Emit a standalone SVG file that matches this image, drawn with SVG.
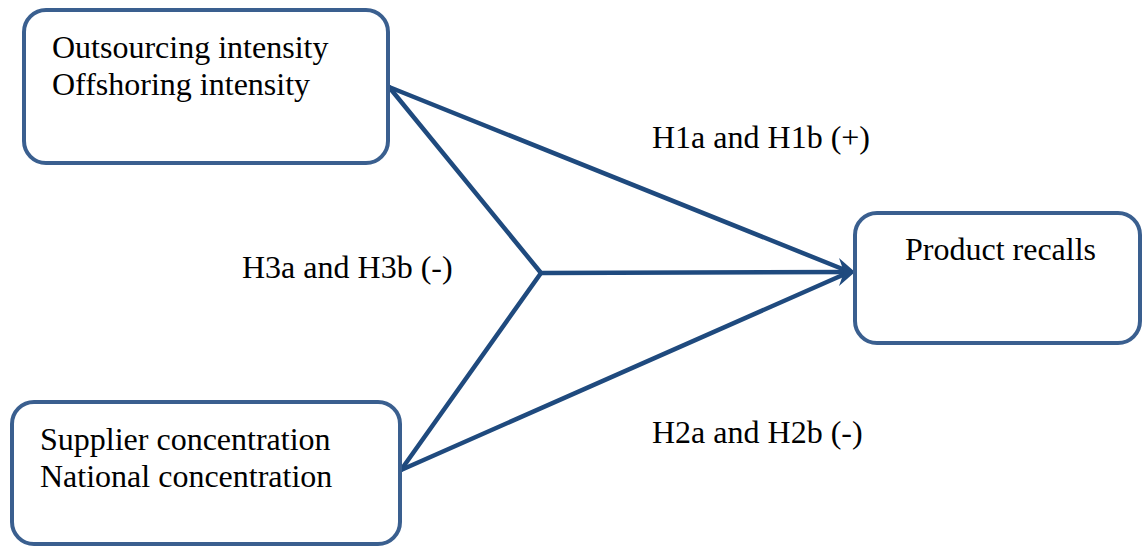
<svg xmlns="http://www.w3.org/2000/svg" width="1142" height="552" viewBox="0 0 1142 552">
<style>
.box{fill:#ffffff;stroke:#3a5f8f;stroke-width:4}
.t{font-family:"Liberation Serif","Times New Roman",serif;font-size:32px;fill:#000}
.c{stroke:#1f4a7e;stroke-width:4.5;fill:none;stroke-linecap:round;stroke-linejoin:round}
</style>
<rect width="1142" height="552" fill="#ffffff"/>
<g id="connectors">
<path class="c" d="M389,87 L845,270"/>
<path class="c" d="M389,87 L541,273 L845,272"/>
<path class="c" d="M401,470 L541,273"/>
<path class="c" d="M401,470 L845,274"/>
<path d="M855,272 L839,258 L844,272 L839,286 Z" fill="#1f4a7e"/>
</g>
<g id="node-outsourcing">
<rect class="box" x="24" y="10" width="364" height="153" rx="22"/>
<text class="t" x="52" y="58">Outsourcing intensity</text>
<text class="t" x="52" y="95">Offshoring intensity</text>
</g>
<g id="node-supplier">
<rect class="box" x="12" y="402" width="388" height="142" rx="22"/>
<text class="t" x="40" y="450">Supplier concentration</text>
<text class="t" x="40" y="487">National concentration</text>
</g>
<g id="node-recalls">
<rect class="box" x="855" y="213" width="285" height="130" rx="22"/>
<text class="t" x="905" y="260">Product recalls</text>
</g>
<g id="labels">
<text class="t" x="652" y="148">H1a and H1b (+)</text>
<text class="t" x="242" y="278">H3a and H3b (-)</text>
<text class="t" x="652" y="443">H2a and H2b (-)</text>
</g>
</svg>
